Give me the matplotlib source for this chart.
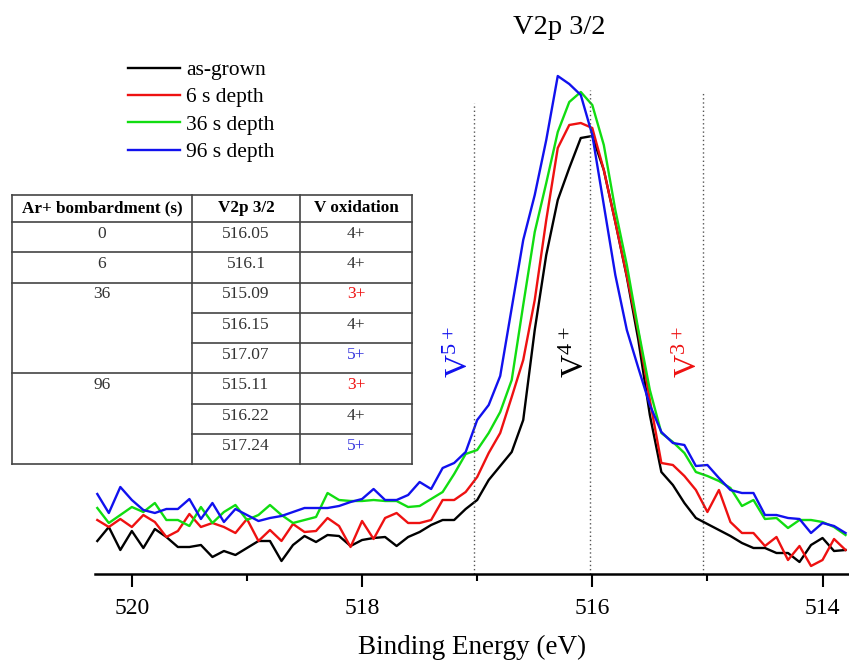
"""XPS V2p 3/2 spectra at several Ar+ sputter depths"""

import matplotlib
matplotlib.use('Agg')
import matplotlib.pyplot as plt

plt.rcParams['font.family'] = ['Liberation Serif', 'DejaVu Serif']
plt.rcParams['mathtext.fontset'] = 'custom'
plt.rcParams['mathtext.rm'] = 'Liberation Serif'
plt.rcParams['mathtext.default'] = 'regular'

# binding energy grid (eV)
energy = [520.3, 520.2, 520.1, 520.0, 519.9, 519.8, 519.7, 519.6, 519.5, 519.4,
          519.3, 519.2, 519.1, 519.0, 518.9, 518.8, 518.7, 518.6, 518.5, 518.4,
          518.3, 518.2, 518.1, 518.0, 517.9, 517.8, 517.7, 517.6, 517.5, 517.4,
          517.3, 517.2, 517.1, 517.0, 516.9, 516.8, 516.7, 516.6, 516.5, 516.4,
          516.3, 516.2, 516.1, 516.0, 515.9, 515.8, 515.7, 515.6, 515.5, 515.4,
          515.3, 515.2, 515.1, 515.0, 514.9, 514.8, 514.7, 514.6, 514.5, 514.4,
          514.3, 514.2, 514.1, 514.0, 513.9, 513.8]

as_grown = [0.33, 0.47, 0.24, 0.43, 0.26, 0.45, 0.37, 0.27, 0.27, 0.29,
            0.17, 0.23, 0.19, 0.26, 0.33, 0.33, 0.13, 0.29, 0.38, 0.32,
            0.39, 0.38, 0.28, 0.34, 0.36, 0.37, 0.28, 0.37, 0.42, 0.49,
            0.54, 0.54, 0.65, 0.74, 0.94, 1.08, 1.22, 1.54, 2.44, 3.19,
            3.74, 4.06, 4.36, 4.38, 4.04, 3.52, 2.97, 2.34, 1.59, 1.02,
            0.89, 0.71, 0.56, 0.50, 0.44, 0.38, 0.31, 0.26, 0.26, 0.21,
            0.21, 0.12, 0.29, 0.36, 0.23, 0.24]

depth_6s = [0.54, 0.47, 0.55, 0.47, 0.59, 0.52, 0.37, 0.43, 0.60, 0.47,
            0.51, 0.47, 0.41, 0.55, 0.33, 0.44, 0.33, 0.50, 0.42, 0.43,
            0.56, 0.48, 0.27, 0.53, 0.35, 0.56, 0.61, 0.51, 0.51, 0.54,
            0.74, 0.74, 0.82, 0.97, 1.21, 1.41, 1.77, 2.14, 2.74, 3.54,
            4.26, 4.49, 4.51, 4.46, 4.04, 3.52, 2.98, 2.42, 1.74, 1.11,
            1.09, 0.98, 0.84, 0.62, 0.84, 0.52, 0.41, 0.41, 0.28, 0.37,
            0.14, 0.28, 0.08, 0.14, 0.35, 0.24]

depth_36s = [0.66, 0.51, 0.59, 0.67, 0.62, 0.71, 0.54, 0.54, 0.48, 0.67,
             0.51, 0.62, 0.69, 0.54, 0.59, 0.69, 0.59, 0.51, 0.54, 0.57,
             0.81, 0.74, 0.73, 0.73, 0.74, 0.73, 0.73, 0.67, 0.68, 0.75,
             0.82, 1.00, 1.20, 1.24, 1.41, 1.62, 1.94, 2.69, 3.42, 3.91,
             4.42, 4.72, 4.82, 4.69, 4.29, 3.64, 3.09, 2.44, 1.84, 1.41,
             1.32, 1.21, 1.02, 0.98, 0.93, 0.86, 0.68, 0.74, 0.55, 0.56,
             0.46, 0.54, 0.54, 0.52, 0.47, 0.39]

depth_96s = [0.80, 0.61, 0.87, 0.74, 0.64, 0.61, 0.65, 0.65, 0.75, 0.55,
             0.71, 0.52, 0.65, 0.59, 0.53, 0.56, 0.58, 0.62, 0.66, 0.66,
             0.66, 0.68, 0.72, 0.75, 0.85, 0.74, 0.74, 0.79, 0.92, 0.85,
             1.06, 1.11, 1.22, 1.54, 1.69, 1.98, 2.66, 3.34, 3.79, 4.34,
             4.98, 4.90, 4.79, 4.39, 3.69, 2.99, 2.44, 2.06, 1.69, 1.42,
             1.31, 1.29, 1.08, 1.09, 0.96, 0.84, 0.81, 0.81, 0.59, 0.59,
             0.56, 0.55, 0.41, 0.51, 0.48, 0.41]

series_labels = ['as-grown', '6 s depth', '36 s depth', '96 s depth']
series_colors = ['black', '#ee1111', '#11dd11', '#1111ee']

# reference positions of the oxidation states
ref_energy = [517.03, 516.02, 515.04]
ref_top = [4.71, 4.84, 4.81]
ref_labels = ['V$^{5+}$', 'V$^{4+}$', 'V$^{3+}$']
ref_colors = ['#1111ee', 'black', '#ee1111']

# fitted peak table
table_header = ['Ar+ bombardment (s)', 'V2p 3/2', 'V oxidation']
bombard_time = ['0', '6', '36', '96']
peak_pos = [['516.05'], ['516.1'], ['515.09', '516.15', '517.07'],
            ['515.11', '516.22', '517.24']]
oxidation = [['4+'], ['4+'], ['3+', '4+', '5+'], ['3+', '4+', '5+']]
ox_colors = {'3+': '#ee1111', '4+': '#333333', '5+': '#3333dd'}


def draw_table(fig):
    """Draw the peak table in figure pixel coordinates."""
    tab = fig.add_axes([0, 0, 1, 1], zorder=3)
    tab.set_xlim(0, 849)
    tab.set_ylim(668, 0)
    tab.axis('off')

    cols = [12, 192, 300, 412]
    top, head_bot, row_h = 195, 222, 30.25
    n_rows = sum(len(p) for p in peak_pos)
    bottom = head_bot + n_rows * row_h
    lc, lw = '#444444', 1.2
    fs = 12.5

    for x in cols:
        tab.plot([x, x], [top, bottom], color=lc, lw=lw)
    tab.plot([cols[0], cols[-1]], [top, top], color=lc, lw=lw)
    tab.plot([cols[0], cols[-1]], [head_bot, head_bot], color=lc, lw=lw)

    for j, h in enumerate(table_header):
        tab.text((cols[j] + cols[j + 1]) / 2, (top + head_bot) / 2, h,
                 ha='center', va='center', fontsize=12.3, fontweight='bold')

    y = head_bot
    for t, peaks, oxs in zip(bombard_time, peak_pos, oxidation):
        tab.text((cols[0] + cols[1]) / 2, y + 12, t, ha='center', va='center',
                 fontsize=fs, color='#333333')
        for p, o in zip(peaks, oxs):
            tab.text((cols[1] + cols[2]) / 2, y + 12, p, ha='center',
                     va='center', fontsize=fs, color='#333333')
            tab.text((cols[2] + cols[3]) / 2, y + 12, o, ha='center',
                     va='center', fontsize=fs, color=ox_colors[o])
            y += row_h
            tab.plot([cols[1], cols[3]], [y, y], color=lc, lw=lw)
        tab.plot([cols[0], cols[1]], [y, y], color=lc, lw=lw)


def main():
    fig = plt.figure(figsize=(8.49, 6.68), dpi=100)
    ax = fig.add_axes([95 / 849, 94 / 668, 754 / 849, 514 / 668])

    for vals, lab, col in zip([as_grown, depth_6s, depth_36s, depth_96s],
                              series_labels, series_colors):
        ax.plot(energy, vals, color=col, lw=1.7, label=lab)

    for e, top, lab, col in zip(ref_energy, ref_top, ref_labels, ref_colors):
        ax.vlines(e, 0, top, colors='#555555', linestyles=(0, (1, 2)), lw=1.0)
        ax.text(e + 0.12, 2.22, lab, rotation=90, color=col, fontsize=23,
                ha='center', va='center')

    ax.set_xlim(520.32, 513.77)
    ax.set_ylim(0, 5.14)
    ax.set_xticks([520, 518, 516, 514])
    ax.set_xticks([519, 517, 515], minor=True)
    ax.tick_params(axis='x', which='major', length=9, width=1.5,
                   labelsize=17, pad=8)
    ax.tick_params(axis='x', which='minor', length=5, width=1.5)
    ax.set_yticks([])
    for side in ['top', 'left', 'right']:
        ax.spines[side].set_visible(False)
    ax.spines['bottom'].set_linewidth(1.8)
    ax.set_xlabel('Binding Energy (eV)', fontsize=19.5, labelpad=12)

    fig.text(559 / 849, 1 - 28 / 668, 'V2p 3/2', ha='center', va='center',
             fontsize=20.5)

    ax.legend(loc='upper left', bbox_to_anchor=(128 / 849, 1 - 60 / 668),
              bbox_transform=fig.transFigure, frameon=False, fontsize=15.5,
              handlelength=2.4, handletextpad=0.3, labelspacing=0.34,
              borderpad=0, borderaxespad=0)

    draw_table(fig)

    fig.savefig('out.png', dpi=100)


if __name__ == '__main__':
    main()
